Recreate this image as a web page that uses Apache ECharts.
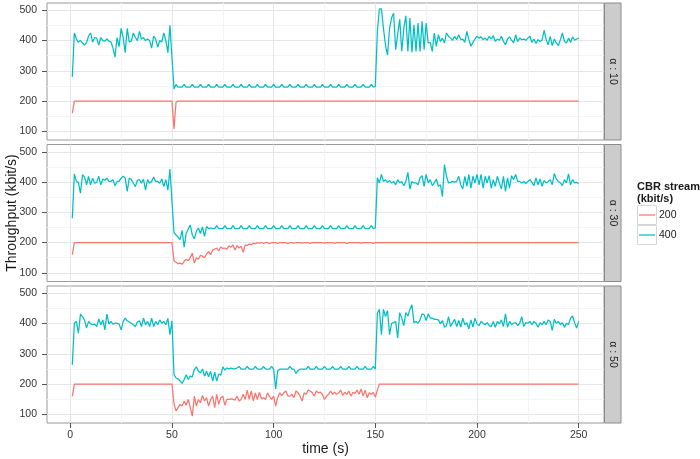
<!DOCTYPE html>
<html>
<head>
<meta charset="utf-8">
<script src="https://cdn.jsdelivr.net/npm/echarts@6/dist/echarts.min.js"></script>
<style>
  html, body { margin: 0; padding: 0; background: #ffffff; }
  #chart { width: 700px; height: 459px; }
</style>
</head>
<body>
<div id="chart"></div>
<script>
// Facet labels, legend entries and tick positions
const panelLabels = ['α : 10', 'α : 30', 'α : 50'];
const streamNames = ['200', '400'];
const yMajorTicks = [100, 200, 300, 400, 500];
const yMinorTicks = [150, 250, 350, 450];
const xMajorTicks = [0, 50, 100, 150, 200, 250];
const xMinorTicks = [25, 75, 125, 175, 225];

// Throughput (kbit/s) per second, t = 1 .. 250
const alpha10_cbr200 = [
  160,200,200,200,200,200,200,200,200,200,
  200,200,200,200,200,200,200,200,200,200,
  200,200,200,200,200,200,200,200,200,200,
  200,200,200,200,200,200,200,200,200,200,
  200,200,200,200,200,200,200,200,200,200,
  108,196,200,200,200,200,200,200,200,200,
  200,200,200,200,200,200,200,200,200,200,
  200,200,200,200,200,200,200,200,200,200,
  200,200,200,200,200,200,200,200,200,200,
  200,200,200,200,200,200,200,200,200,200,
  200,200,200,200,200,200,200,200,200,200,
  200,200,200,200,200,200,200,200,200,200,
  200,200,200,200,200,200,200,200,200,200,
  200,200,200,200,200,200,200,200,200,200,
  200,200,200,200,200,200,200,200,200,200,
  200,200,200,200,200,200,200,200,200,200,
  200,200,200,200,200,200,200,200,200,200,
  200,200,200,200,200,200,200,200,200,200,
  200,200,200,200,200,200,200,200,200,200,
  200,200,200,200,200,200,200,200,200,200,
  200,200,200,200,200,200,200,200,200,200,
  200,200,200,200,200,200,200,200,200,200,
  200,200,200,200,200,200,200,200,200,200,
  200,200,200,200,200,200,200,200,200,200,
  200,200,200,200,200,200,200,200,200,200
];
const alpha10_cbr400 = [
  280,425,405,395,400,392,385,393,415,425,
  395,410,408,385,410,400,398,405,398,395,
  375,345,410,380,440,410,360,440,395,398,
  425,410,400,430,405,410,400,405,400,375,
  415,405,378,400,395,425,400,360,450,345,
  240,255,246,246,246,255,246,246,246,255,
  246,246,246,255,246,246,246,255,246,246,
  246,255,246,246,246,255,246,246,246,255,
  246,246,246,255,246,246,246,255,246,246,
  246,255,246,246,246,255,246,246,246,255,
  246,246,246,255,246,246,246,255,246,246,
  246,255,246,246,246,255,246,246,246,255,
  246,246,246,255,246,246,246,255,246,246,
  246,255,246,246,246,255,246,246,246,255,
  246,246,246,255,246,246,246,255,246,248,
  430,505,505,440,385,352,440,475,490,370,
  420,470,365,440,482,364,474,361,452,364,
  458,364,464,370,458,392,394,364,425,381,
  419,397,408,392,425,414,408,401,414,403,
  419,403,405,394,430,403,381,394,405,414,
  408,412,403,408,401,414,405,416,397,405,
  401,414,397,386,405,412,401,392,419,397,
  408,403,405,401,408,414,394,405,390,403,
  397,401,434,403,386,414,383,405,392,383,
  403,425,397,392,408,394,412,401,405,408
];
const alpha30_cbr200 = [
  160,200,200,200,200,200,200,200,200,200,
  200,200,200,200,200,200,200,200,200,200,
  200,200,200,200,200,200,200,200,200,200,
  200,200,200,200,200,200,200,200,200,200,
  200,200,200,200,200,200,200,200,200,200,
  140,135,130,132,128,138,145,140,150,165,
  132,150,145,158,155,150,162,170,160,175,
  178,182,172,185,180,182,178,188,185,192,
  175,190,182,188,168,192,190,195,193,198,
  196,200,198,200,197,200,200,196,200,200,
  200,197,200,200,200,200,196,200,200,197,
  200,200,200,198,200,200,200,197,200,200,
  200,200,200,200,198,200,200,200,200,197,
  200,200,200,200,200,196,200,200,200,200,
  200,200,198,200,200,200,200,200,197,200,
  200,200,200,200,200,200,200,200,200,200,
  200,200,200,200,200,200,200,200,200,200,
  200,200,200,200,200,200,200,200,200,200,
  200,200,200,200,200,200,200,200,200,200,
  200,200,200,200,200,200,200,200,200,200,
  200,200,200,200,200,200,200,200,200,200,
  200,200,200,200,200,200,200,200,200,200,
  200,200,200,200,200,200,200,200,200,200,
  200,200,200,200,200,200,200,200,200,200,
  200,200,200,200,200,200,200,200,200,200
];
const alpha30_cbr400 = [
  280,427,402,399,363,424,417,391,419,391,
  413,396,399,419,391,410,406,413,402,402,
  408,388,402,402,413,419,413,369,413,408,
  396,385,406,408,396,410,373,408,396,402,
  417,402,402,396,410,385,408,373,443,335,
  233,225,218,210,240,185,230,245,258,225,
  212,238,248,230,252,220,253,246,248,246,
  246,256,246,246,246,256,246,246,246,256,
  246,246,246,256,246,246,246,256,246,246,
  246,256,246,246,246,256,246,246,246,256,
  246,246,246,256,246,246,246,256,246,246,
  246,256,246,246,246,256,246,246,246,256,
  246,246,246,256,246,246,246,256,246,246,
  246,256,246,246,246,256,246,246,246,256,
  246,246,246,256,246,246,246,256,246,248,
  414,397,425,402,408,399,405,397,402,391,
  408,397,402,388,402,432,377,402,397,397,
  391,414,421,386,425,397,408,388,397,410,
  386,391,352,458,419,397,399,402,400,402,
  419,391,377,419,386,425,380,419,397,425,
  391,425,380,419,397,421,380,408,386,419,
  397,377,419,369,414,380,421,408,425,402,
  402,397,402,395,402,408,399,388,414,391,
  410,386,405,397,402,408,391,428,410,402,
  397,388,408,397,427,391,408,397,399,395
];
const alpha50_cbr200 = [
  160,200,200,200,200,200,200,200,200,200,
  200,200,200,200,200,200,200,200,200,200,
  200,200,200,200,200,200,200,200,200,200,
  200,200,200,200,200,200,200,200,200,200,
  200,200,200,200,200,200,200,200,200,200,
  135,111,122,133,127,144,130,149,122,94,
  160,127,149,138,162,144,155,127,149,160,
  122,166,133,155,160,130,149,149,151,149,
  147,160,144,149,166,149,180,149,177,144,
  171,149,173,151,155,149,171,158,149,160,
  127,155,171,162,171,177,160,160,166,155,
  177,171,160,144,171,166,180,177,171,160,
  177,171,173,166,149,160,166,177,166,173,
  166,171,180,162,173,166,177,160,173,169,
  180,166,184,160,180,155,171,166,172,157,
  180,200,200,200,200,200,200,200,200,200,
  200,200,200,200,200,200,200,200,200,200,
  200,200,200,200,200,200,200,200,200,200,
  200,200,200,200,200,200,200,200,200,200,
  200,200,200,200,200,200,200,200,200,200,
  200,200,200,200,200,200,200,200,200,200,
  200,200,200,200,200,200,200,200,200,200,
  200,200,200,200,200,200,200,200,200,200,
  200,200,200,200,200,200,200,200,200,200,
  200,200,200,200,200,200,200,200,200,200
];
const alpha50_cbr400 = [
  264,401,407,368,431,423,412,385,407,399,
  396,398,390,415,396,412,379,431,398,407,
  398,401,401,398,379,407,418,409,405,401,
  396,390,405,409,390,418,396,407,390,418,
  390,407,396,412,401,407,396,417,363,409,
  231,220,217,210,202,215,231,215,226,224,
  248,257,242,237,250,226,242,224,242,210,
  239,210,233,229,257,246,253,250,253,250,
  250,253,258,249,249,249,258,249,249,249,
  258,249,249,249,258,249,249,249,258,249,
  184,244,249,249,249,249,249,258,249,249,
  235,245,249,249,249,249,258,249,249,249,
  258,249,249,249,258,249,249,249,258,249,
  249,249,258,249,249,249,258,249,249,249,
  258,249,249,249,258,249,249,249,258,249,
  434,447,363,447,423,443,363,401,403,407,
  352,436,418,393,436,425,447,462,403,407,
  401,412,432,429,410,432,418,418,414,414,
  412,399,410,388,393,423,390,403,414,390,
  410,388,418,396,403,382,412,388,418,399,
  393,407,401,396,403,393,390,407,388,407,
  399,412,390,432,388,407,396,401,403,393,
  401,423,390,403,401,407,396,407,401,388,
  403,396,407,396,412,407,377,414,401,407,
  396,403,388,401,396,418,425,403,385,407
];

const panelSeries = [
  [alpha10_cbr200, alpha10_cbr400],
  [alpha30_cbr200, alpha30_cbr400],
  [alpha50_cbr200, alpha50_cbr400]
];

// Layout and styling
const FONT = '"Liberation Sans", Arial, Helvetica, sans-serif';
const COLORS = ['#F8766D', '#00BFC4'];
const PLOT_LEFT = 47;
const PLOT_RIGHT = 604;
const PLOT_WIDTH = PLOT_RIGHT - PLOT_LEFT;
const PANELS = [
  { top: 3, height: 137 },
  { top: 144.5, height: 137 },
  { top: 286, height: 137 }
];
const X_RANGE = [-11.45, 262.45];
const Y_RANGE = [71.2, 524.1];
const STRIP_W = 16.5;
const TICK_FONT = 10.5;
const LINE_W = 1.25;

const grids = [], xAxes = [], yAxes = [], series = [];

function xAxisDef(i, ticks, major, showLabels) {
  return {
    gridIndex: i, type: 'value', position: 'bottom',
    min: X_RANGE[0], max: X_RANGE[1],
    axisLine: { show: false, onZero: false },
    axisTick: { show: showLabels, customValues: ticks, length: 5,
      lineStyle: { color: '#555555', width: 1 } },
    axisLabel: { show: showLabels, customValues: ticks, margin: 7,
      fontFamily: FONT, fontSize: TICK_FONT, color: '#333333' },
    splitLine: { show: true, lineStyle: { color: major ? '#e6e6e6' : '#f4f4f4', width: 1 } }
  };
}
function yAxisDef(i, ticks, major) {
  return {
    gridIndex: i, type: 'value', position: 'left',
    min: Y_RANGE[0], max: Y_RANGE[1],
    axisLine: { show: false, onZero: false },
    axisTick: { show: major, customValues: ticks, length: 5,
      lineStyle: { color: '#555555', width: 1 } },
    axisLabel: { show: major, customValues: ticks, margin: 10,
      fontFamily: FONT, fontSize: TICK_FONT, color: '#333333' },
    splitLine: { show: true, lineStyle: { color: major ? '#e6e6e6' : '#f4f4f4', width: 1 } }
  };
}

PANELS.forEach((p, i) => {
  const bottomPanel = i === PANELS.length - 1;
  grids.push({
    left: PLOT_LEFT, top: p.top, width: PLOT_WIDTH, height: p.height,
    show: true, backgroundColor: '#ffffff', borderColor: '#9a9a9a', borderWidth: 1
  });
  xAxes.push(xAxisDef(i, xMinorTicks, false, false));
  xAxes.push(xAxisDef(i, xMajorTicks, true, bottomPanel));
  yAxes.push(yAxisDef(i, yMinorTicks, false));
  yAxes.push(yAxisDef(i, yMajorTicks, true));
  panelSeries[i].forEach((values, s) => {
    series.push({
      type: 'line',
      name: streamNames[s],
      xAxisIndex: 2 * i + 1,
      yAxisIndex: 2 * i + 1,
      data: values.map((v, k) => [k + 1, v]),
      showSymbol: false,
      symbol: 'none',
      silent: true,
      lineStyle: { color: COLORS[s], width: LINE_W },
      itemStyle: { color: COLORS[s] }
    });
  });
});

// Facet strips on the right of each panel
const graphics = [];
PANELS.forEach((p, i) => {
  graphics.push({
    type: 'rect',
    shape: { x: PLOT_RIGHT + 0.5, y: p.top, width: STRIP_W, height: p.height },
    style: { fill: '#cccccc', stroke: '#8a8a8a', lineWidth: 1 }
  });
  graphics.push({
    type: 'text',
    x: PLOT_RIGHT + 0.5 + STRIP_W / 2,
    y: p.top + p.height / 2,
    rotation: -Math.PI / 2,
    style: {
      text: panelLabels[i], fontFamily: FONT, fontSize: 10.5, fill: '#1a1a1a',
      textAlign: 'center', textVerticalAlign: 'middle'
    }
  });
});

// Axis titles
graphics.push({
  type: 'text', x: 12.5, y: (PANELS[0].top + PANELS[2].top + PANELS[2].height) / 2,
  rotation: Math.PI / 2,
  style: { text: 'Throughput (kbit/s)', fontFamily: FONT, fontSize: 14, fill: '#1a1a1a',
    textAlign: 'center', textVerticalAlign: 'middle' }
});
graphics.push({
  type: 'text', x: PLOT_LEFT + PLOT_WIDTH / 2, y: 449,
  style: { text: 'time (s)', fontFamily: FONT, fontSize: 14, fill: '#1a1a1a',
    textAlign: 'center', textVerticalAlign: 'middle' }
});

// Legend
const LEG_X = 637;
graphics.push({
  type: 'text', x: LEG_X, y: 180.5,
  style: { text: 'CBR stream\n(kbit/s)', fontFamily: FONT, fontSize: 11, fontWeight: 'bold',
    fill: '#1a1a1a', lineHeight: 12, textAlign: 'left', textVerticalAlign: 'top' }
});
streamNames.forEach((name, s) => {
  const ky = 205 + s * 20;
  graphics.push({
    type: 'rect', shape: { x: LEG_X + 0.5, y: ky + 0.5, width: 19, height: 19 },
    style: { fill: '#ffffff', stroke: '#d6d6d6', lineWidth: 1 }
  });
  graphics.push({
    type: 'line', shape: { x1: LEG_X + 2, y1: ky + 10, x2: LEG_X + 18, y2: ky + 10 },
    style: { stroke: COLORS[s], lineWidth: LINE_W }
  });
  graphics.push({
    type: 'text', x: LEG_X + 22, y: ky + 10.5,
    style: { text: name, fontFamily: FONT, fontSize: 10.5, fill: '#1a1a1a',
      textAlign: 'left', textVerticalAlign: 'middle' }
  });
});

const chart = echarts.init(document.getElementById('chart'), null, { renderer: 'canvas' });
chart.setOption({
  animation: false,
  backgroundColor: '#ffffff',
  grid: grids,
  xAxis: xAxes,
  yAxis: yAxes,
  series: series,
  graphic: { elements: graphics }
});
</script>
</body>
</html>
